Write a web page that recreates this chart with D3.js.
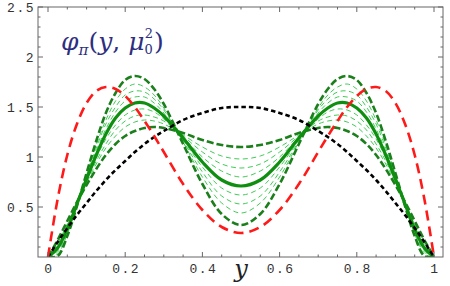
<!DOCTYPE html>
<html><head><meta charset="utf-8">
<script src="https://cdn.jsdelivr.net/npm/d3@7"></script>
<style>body{margin:0;background:#fff}svg{display:block}</style>
</head><body>
<svg id="c" width="450" height="286"></svg>
<script>
// sample positions along y (shared by all curves)
const xs = [0,0.025,0.05,0.075,0.1,0.125,0.15,0.175,0.2,0.225,0.25,0.275,0.3,0.35,0.4,0.45,0.5,
            0.55,0.6,0.65,0.7,0.725,0.75,0.775,0.8,0.825,0.85,0.875,0.9,0.925,0.95,0.975,1];
// asymptotic DA (black dashed)
const asympt = [0,0.15,0.29,0.42,0.54,0.66,0.77,0.87,0.96,1.05,1.13,1.20,1.26,1.37,1.44,1.49,1.50,
                1.49,1.44,1.37,1.26,1.20,1.13,1.05,0.96,0.87,0.77,0.66,0.54,0.42,0.29,0.15,0];
// CZ-like DA (red dashed)
const cz = [0,0.58,1.02,1.33,1.54,1.66,1.70,1.68,1.61,1.50,1.36,1.21,1.05,0.73,0.47,0.30,0.24,
            0.30,0.47,0.73,1.05,1.21,1.36,1.50,1.61,1.68,1.70,1.66,1.54,1.33,1.02,0.58,0];
// BMS central curve (thick solid green)
const bms = [0,0.09,0.28,0.53,0.78,1.02,1.23,1.39,1.49,1.54,1.54,1.49,1.41,1.19,0.95,0.77,0.71,
             0.77,0.95,1.19,1.41,1.49,1.54,1.54,1.49,1.39,1.23,1.02,0.78,0.53,0.28,0.09,0];
// bunch boundaries (dark green dashed)
const bmsUpper = [0,0.01,0.21,0.51,0.84,1.16,1.44,1.64,1.77,1.81,1.78,1.68,1.53,1.13,0.73,0.43,0.32,
                  0.43,0.73,1.13,1.53,1.68,1.78,1.81,1.77,1.64,1.44,1.16,0.84,0.51,0.21,0.01,0];
const bmsLower = [0,0.17,0.36,0.55,0.72,0.88,1.02,1.13,1.21,1.26,1.29,1.30,1.29,1.24,1.17,1.12,1.10,
                  1.12,1.17,1.24,1.29,1.30,1.29,1.26,1.21,1.13,1.02,0.88,0.72,0.55,0.36,0.17,0];
// bunch interior (thin light green dashed)
const bunch1 = [0,0.14,0.33,0.54,0.74,0.93,1.09,1.21,1.30,1.35,1.37,1.36,1.33,1.22,1.10,1.01,0.98,
                1.01,1.10,1.22,1.33,1.36,1.37,1.35,1.30,1.21,1.09,0.93,0.74,0.54,0.33,0.14,0];
const bunch2 = [0,0.13,0.32,0.54,0.76,0.96,1.13,1.27,1.36,1.41,1.42,1.40,1.36,1.21,1.05,0.93,0.89,
                0.93,1.05,1.21,1.36,1.40,1.42,1.41,1.36,1.27,1.13,0.96,0.76,0.54,0.32,0.13,0];
const bunch3 = [0,0.11,0.30,0.53,0.77,0.99,1.18,1.32,1.42,1.47,1.48,1.45,1.38,1.20,1.00,0.86,0.80,
                0.86,1.00,1.20,1.38,1.45,1.48,1.47,1.42,1.32,1.18,0.99,0.77,0.53,0.30,0.11,0];
const bunch4 = [0,0.07,0.26,0.52,0.80,1.06,1.28,1.45,1.56,1.60,1.60,1.54,1.44,1.17,0.90,0.69,0.62,
                0.69,0.90,1.17,1.44,1.54,1.60,1.60,1.56,1.45,1.28,1.06,0.80,0.52,0.26,0.07,0];
const bunch5 = [0,0.05,0.25,0.52,0.81,1.09,1.33,1.50,1.62,1.66,1.65,1.58,1.47,1.16,0.85,0.61,0.53,
                0.61,0.85,1.16,1.47,1.58,1.65,1.66,1.62,1.50,1.33,1.09,0.81,0.52,0.25,0.05,0];
const bunch6 = [0,0.03,0.23,0.51,0.82,1.12,1.37,1.56,1.68,1.73,1.70,1.62,1.49,1.15,0.80,0.54,0.44,
                0.54,0.80,1.15,1.49,1.62,1.70,1.73,1.68,1.56,1.37,1.12,0.82,0.51,0.23,0.03,0];

const xTicks = [0,0.2,0.4,0.6,0.8,1];
const xTickLabels = ["0","0.2","0.4","0.6","0.8","1"];
const yTicks = [0.5,1,1.5,2,2.5];
const yTickLabels = ["0.5","1","1.5","2","2.5"];

const svg = d3.select("#c");
const X0 = 38, X1 = 443, Y0 = 7, Y1 = 257;
const x = d3.scaleLinear().domain([0,1]).range([48,434]);
const y = d3.scaleLinear().domain([0,2.5]).range([257,7]);

svg.append("defs").append("clipPath").attr("id","clip")
  .append("rect").attr("x",X0).attr("y",Y0).attr("width",X1-X0).attr("height",Y1-Y0);

const line = d3.line().x((d,i)=>x(xs[i])).y(d=>y(d)).curve(d3.curveCatmullRom.alpha(0.5));
const g = svg.append("g").attr("clip-path","url(#clip)");
function draw(arr, color, w, dash){
  g.append("path").attr("d", line(arr)).attr("fill","none").attr("stroke",color)
   .attr("stroke-width",w).attr("stroke-dasharray",dash||null);
}
[bunch1,bunch2,bunch3,bunch4,bunch5,bunch6].forEach(a=>draw(a,"#3fcc55",1,"5,3.5"));
draw(bmsLower,"#1b7f1b",2.6,"7,3");
draw(bmsUpper,"#1b7f1b",2.6,"7,3");
draw(bms,"#0f8f0f",3.2,null);
draw(asympt,"#000",2.6,"4.5,3");
draw(cz,"#ff1a1a",2.6,"10,6");

// frame
const fc = "#666";
svg.append("rect").attr("x",X0).attr("y",Y0).attr("width",X1-X0).attr("height",Y1-Y0)
  .attr("fill","none").attr("stroke",fc).attr("stroke-width",1);

// ticks
const xMinor = d3.range(0,1.0001,0.05);
const yMinor = d3.range(0.1,2.5001,0.1);
const tg = svg.append("g").attr("stroke",fc).attr("stroke-width",1);
xMinor.forEach(v=>{
  const major = xTicks.some(t=>Math.abs(t-v)<1e-6);
  const L = major?5:2.5;
  tg.append("line").attr("x1",x(v)).attr("x2",x(v)).attr("y1",Y1).attr("y2",Y1-L);
  tg.append("line").attr("x1",x(v)).attr("x2",x(v)).attr("y1",Y0).attr("y2",Y0+L);
});
yMinor.forEach(v=>{
  const major = yTicks.some(t=>Math.abs(t-v)<1e-6);
  const L = major?5:2.5;
  tg.append("line").attr("y1",y(v)).attr("y2",y(v)).attr("x1",X0).attr("x2",X0+L);
  tg.append("line").attr("y1",y(v)).attr("y2",y(v)).attr("x1",X1).attr("x2",X1-L);
});

// tick labels
const lab = {"font-family":"'Liberation Mono','DejaVu Sans Mono',monospace","font-size":"13px","fill":"#333","letter-spacing":"1.5px"};
xTicks.forEach((v,i)=>{
  const t = svg.append("text").attr("x",x(v)+1).attr("y",273).attr("text-anchor","middle").text(xTickLabels[i]);
  Object.entries(lab).forEach(([k,val])=>t.style(k,val));
});
yTicks.forEach((v,i)=>{
  const t = svg.append("text").attr("x",35).attr("y",y(v)+4.5).attr("text-anchor","end").text(yTickLabels[i]);
  Object.entries(lab).forEach(([k,val])=>t.style(k,val));
});

// axis label
svg.append("text").attr("x",x(0.5)).attr("y",277).attr("text-anchor","middle")
  .style("font-family","'DejaVu Serif','Liberation Serif',serif").style("font-style","italic")
  .style("font-size","24px").style("fill","#222").text("y");

// title
const tt = svg.append("text").attr("x",61).attr("y",50)
  .style("font-family","'DejaVu Serif','Liberation Serif',serif").style("font-size","25px").style("fill","#2e2e80");
tt.append("tspan").style("font-style","italic").text("φ");
tt.append("tspan").attr("dy",5).style("font-size","15px").style("font-style","italic").text("π");
tt.append("tspan").attr("dy",-5).text("(");
tt.append("tspan").style("font-style","italic").text("y");
tt.append("tspan").text(", ");
tt.append("tspan").style("font-style","italic").text("μ");
tt.append("tspan").attr("dy",4).style("font-size","13px").text("0");
tt.append("tspan").attr("dx",-8).attr("dy",-16).style("font-size","13px").text("2");
tt.append("tspan").attr("dx",1).attr("dy",12).text(")");
</script>
</body></html>
